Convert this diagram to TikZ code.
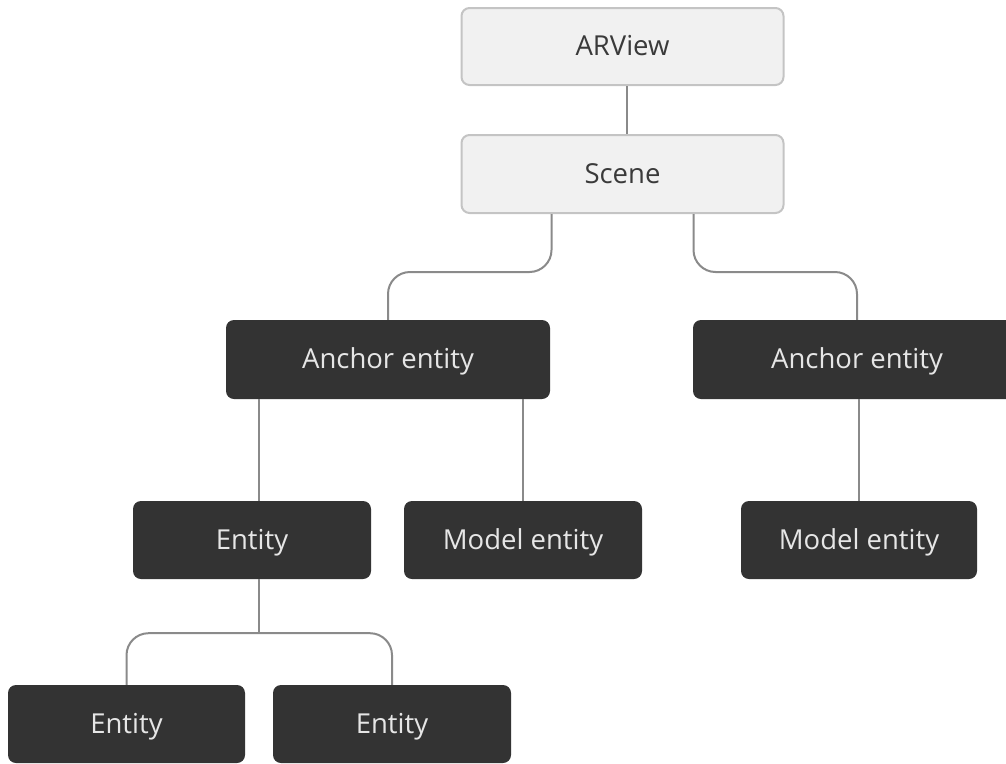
\documentclass[tikz,border=0pt]{standalone}
\usepackage{fontspec}
\setmainfont{Open Sans}
\definecolor{lightfill}{HTML}{F1F1F1}
\definecolor{lightedge}{HTML}{C4C4C4}
\definecolor{darkfill}{HTML}{333333}
\definecolor{darktext}{HTML}{3A3A3A}
\definecolor{lighttext}{HTML}{E6E6E6}
\definecolor{linkgray}{HTML}{8A8A8A}
\tikzset{
  boxtext/.style={font=\fontsize{27.5}{32}\selectfont, inner sep=0pt, anchor=center,
    text height=18pt, text depth=0pt},
  lightbox/.style={boxtext, draw=lightedge, line width=2pt, fill=lightfill,
    rounded corners=8pt, text=darktext},
  darkbox/.style={boxtext, fill=darkfill, rounded corners=8pt, text=lighttext},
  link/.style={draw=linkgray, line width=2pt, rounded corners=22pt},
}
\begin{document}
\begin{tikzpicture}[x=1pt,y=-1pt]
  \useasboundingbox (0,0) rectangle (1006,763);
  \clip (0,0) rectangle (1006,763);

  % boxes
  \node[lightbox, minimum width=322pt, minimum height=77pt] (arview) at (622.5,46.5) {ARView};
  \node[lightbox, minimum width=322pt, minimum height=78pt] (scene) at (622.5,174) {Scene};
  \node[darkbox, minimum width=324pt, minimum height=79pt] (ancL) at (388,359.5) {Anchor entity};
  \node[darkbox, minimum width=328pt, minimum height=79pt] (ancR) at (857,359.5) {Anchor entity};
  \node[darkbox, minimum width=238pt, minimum height=78pt] (ent1) at (252,540) {Entity};
  \node[darkbox, minimum width=238pt, minimum height=78pt] (modL) at (523,540) {Model entity};
  \node[darkbox, minimum width=236pt, minimum height=78pt] (modR) at (859,540) {Model entity};
  \node[darkbox, minimum width=237pt, minimum height=78pt] (ent2) at (126.5,724) {Entity};
  \node[darkbox, minimum width=238pt, minimum height=78pt] (ent3) at (392,724) {Entity};

  % tree links
  \draw[link] ([xshift=4pt]arview.south) -- ([xshift=4pt]scene.north);
  \draw[link] ([xshift=-71pt]scene.south) -- ++(0,58) -| (ancL.north);
  \draw[link] ([xshift=71pt]scene.south) -- ++(0,58) -| (ancR.north);
  \draw[link] ([xshift=7pt]ent1.north) -- ([xshift=7pt]ent1.north |- ancL.south);
  \draw[link] (modL.north) -- (modL.north |- ancL.south);
  \draw[link] (modR.north) -- (modR.north |- ancR.south);
  % T-junction under the middle entity
  \coordinate (fork) at ([xshift=7pt,yshift=-54pt]ent1.south);
  \draw[link] ([xshift=7pt]ent1.south) -- (fork);
  \draw[link] (ent2.north) |- (fork) -| (ent3.north);
\end{tikzpicture}
\end{document}
